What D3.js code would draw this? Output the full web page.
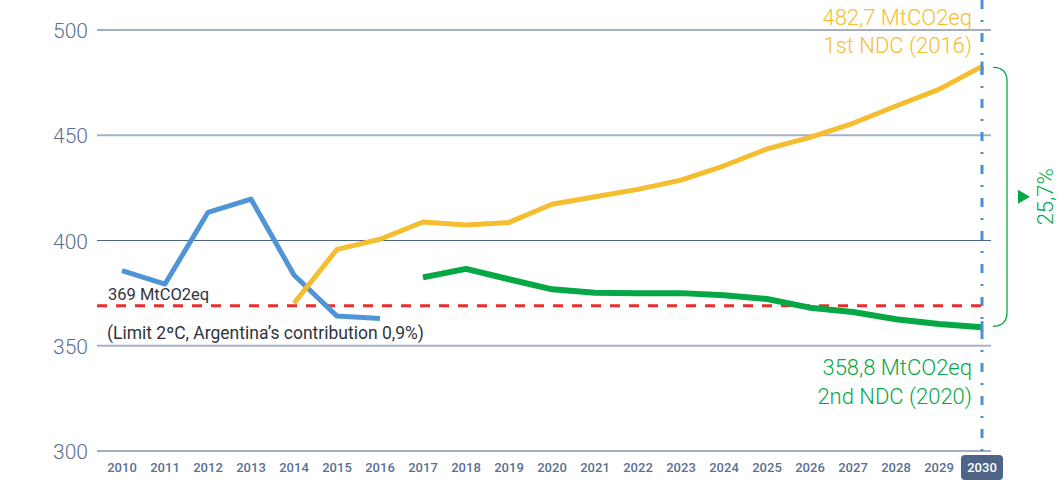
<!DOCTYPE html>
<html>
<head>
<meta charset="utf-8">
<script src="https://cdn.jsdelivr.net/npm/d3@7"></script>
<style>
	body { margin: 0; background: #fff; }
	svg { display: block; font-family: Roboto, "Noto Sans", sans-serif; }
	.ytick { fill: #5b7092; font-size: 21px; font-weight: 300; }
	.xtick { fill: #5b7092; font-size: 13px; font-weight: 500; }
</style>
</head>
<body>
<div id="chart"></div>
<script>
// years on the x axis
var years = [2010, 2011, 2012, 2013, 2014, 2015, 2016, 2017, 2018, 2019, 2020,
	2021, 2022, 2023, 2024, 2025, 2026, 2027, 2028, 2029, 2030];
var yTicks = [300, 350, 400, 450, 500];

// historic emissions (blue)
var historic = [385.7, 379.3, 413.4, 419.7, 383.6, 364.1, 363.0, null, null, null, null,
	null, null, null, null, null, null, null, null, null, null];
// 1st NDC 2016 projection (yellow)
var ndc1 = [null, null, null, null, 370.2, 395.8, 400.6, 408.8, 407.4, 408.6, 417.2,
	420.8, 424.3, 428.7, 435.5, 443.5, 449.0, 455.7, 463.9, 471.8, 482.7];
// 2nd NDC 2020 projection (green)
var ndc2 = [null, null, null, null, null, null, null, 382.5, 386.5, 381.6, 376.8,
	375.2, 374.9, 375.0, 374.0, 372.2, 368.1, 366.0, 362.6, 360.3, 358.8];
var limit = 369;

var width = 1058, height = 482;

var x = d3.scalePoint().domain(years).range([122, 982]);
var y = d3.scaleLinear().domain([300, 500]).range([451, 30]);

var svg = d3.select("#chart").append("svg")
	.attr("width", width)
	.attr("height", height);

// grid lines
var grid = svg.append("g").attr("class", "grid");
grid.selectAll("line")
	.data(yTicks)
	.enter()
		.append("line")
		.attr("x1", 97)
		.attr("x2", 991)
		.attr("y1", function(d) { return y(d); })
		.attr("y2", function(d) { return y(d); })
		.attr("stroke", function(d) { return (d % 100 == 0) ? "#4b6283" : "#a7b1c4"; })
		.attr("stroke-width", function(d) { return (d % 100 == 0) ? 1.2 : 2; });

grid.selectAll(".ytick")
	.data(yTicks)
	.enter()
		.append("text")
		.attr("class", "ytick")
		.attr("text-anchor", "end")
		.attr("x", 88)
		.attr("y", function(d) { return y(d) + 8; })
		.text(function(d) { return d; });

// x axis labels, 2030 highlighted
var xa = svg.append("g").attr("class", "xaxis");
xa.append("rect")
	.attr("x", x(2030) - 21)
	.attr("y", 455)
	.attr("width", 42)
	.attr("height", 25)
	.attr("rx", 4)
	.attr("fill", "#4e6587");
xa.selectAll(".xtick")
	.data(years)
	.enter()
		.append("text")
		.attr("class", "xtick")
		.attr("text-anchor", "middle")
		.attr("x", function(d) { return x(d); })
		.attr("y", 472)
		.style("fill", function(d) { return d == 2030 ? "#fff" : null; })
		.text(function(d) { return d; });

// limit line
svg.append("line")
	.attr("x1", 97)
	.attr("x2", 984)
	.attr("y1", y(limit))
	.attr("y2", y(limit))
	.attr("stroke", "#ee2b2b")
	.attr("stroke-width", 3)
	.attr("stroke-dasharray", "10,9");

// 2030 marker
svg.append("line")
	.attr("x1", x(2030))
	.attr("x2", x(2030))
	.attr("y1", 0)
	.attr("y2", 452)
	.attr("stroke", "#4a90d6")
	.attr("stroke-width", 3)
	.attr("stroke-dasharray", "9,11,2,11");

var line = d3.line()
	.defined(function(d) { return d != null; })
	.x(function(d, i) { return x(years[i]); })
	.y(function(d) { return y(d); });

var series = [
	{ values: historic, color: "#4f95d6", w: 5 },
	{ values: ndc1, color: "#f5bd30", w: 5 },
	{ values: ndc2, color: "#06a845", w: 6 }
];
svg.selectAll(".series")
	.data(series)
	.enter()
		.append("path")
		.attr("class", "series")
		.attr("fill", "none")
		.attr("stroke", function(d) { return d.color; })
		.attr("stroke-width", function(d) { return d.w; })
		.attr("stroke-linejoin", "round")
		.attr("d", function(d) { return line(d.values); });

// redraw 2030 marker dashes over line ends
svg.append("line")
	.attr("x1", x(2030))
	.attr("x2", x(2030))
	.attr("y1", y(ndc1[20]) - 5)
	.attr("y2", y(ndc1[20]) + 8)
	.attr("stroke", "#4a90d6")
	.attr("stroke-width", 3);
svg.append("line")
	.attr("x1", x(2030))
	.attr("x2", x(2030))
	.attr("y1", y(ndc2[20]) - 6)
	.attr("y2", y(ndc2[20]) + 4)
	.attr("stroke", "#4a90d6")
	.attr("stroke-width", 3);

// bracket between the two NDCs
var bx = 993, by1 = y(ndc1[20]) + 1, by2 = y(ndc2[20]) - 1, bw = 14, br = 14;
svg.append("path")
	.attr("fill", "none")
	.attr("stroke", "#06a845")
	.attr("stroke-width", 1.3)
	.attr("d", "M" + bx + "," + by1 +
		" Q" + (bx + bw) + "," + by1 + " " + (bx + bw) + "," + (by1 + br) +
		" L" + (bx + bw) + "," + (by2 - br) +
		" Q" + (bx + bw) + "," + by2 + " " + bx + "," + by2);

var pct = svg.append("g")
	.attr("transform", "translate(1053," + ((by1 + by2) / 2) + ") rotate(-90)");
pct.append("text")
	.attr("text-anchor", "middle")
	.attr("fill", "#06a845")
	.attr("font-size", 22)
	.attr("font-weight", 300)
	.text("25,7%");
// triangle pointing right on screen
pct.append("path")
	.attr("d", "M-7,-35 L7,-35 L0,-23 Z")
	.attr("fill", "#06a845");

// annotations
var ann = svg.append("g").attr("class", "annotations");
function note(txt, xx, yy, color, size, anchor, weight) {
	ann.append("text")
		.attr("x", xx)
		.attr("y", yy)
		.attr("fill", color)
		.attr("font-size", size)
		.attr("font-weight", weight)
		.attr("text-anchor", anchor)
		.text(txt);
}
note("482,7 MtCO2eq", 972, 25, "#f5bd30", 22, "end", 300);
note("1st NDC (2016)", 972, 53, "#f5bd30", 22, "end", 300);
note("358,8 MtCO2eq", 972, 375, "#06a845", 22, "end", 300);
note("2nd NDC (2020)", 972, 404, "#06a845", 22, "end", 300);
note("369 MtCO2eq", 108, 300, "#2f3540", 16.5, "start", 400);
note("(Limit 2\u00baC, Argentina\u2019s contribution 0,9%)", 107, 339, "#2f3540", 17.5, "start", 400);
</script>
</body>
</html>
